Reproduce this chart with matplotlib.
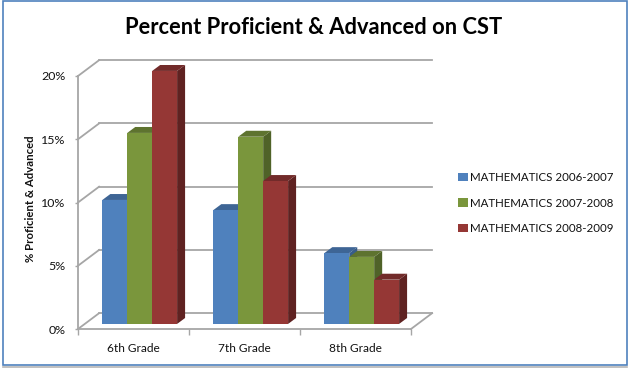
import matplotlib
matplotlib.use('Agg')
import matplotlib.pyplot as plt
from matplotlib.patches import Patch, Polygon, Rectangle
import numpy as np

grades = ['6th Grade', '7th Grade', '8th Grade']
series = ['MATHEMATICS 2006-2007', 'MATHEMATICS 2007-2008', 'MATHEMATICS 2008-2009']
math_0607 = [9.8, 9.0, 5.6]
math_0708 = [15.1, 14.8, 5.3]
math_0809 = [20.0, 11.3, 3.5]
y_ticks = [0, 5, 10, 15, 20]

front_cols = ['#4f81bd', '#7a963c', '#953735']
top_cols = ['#3e6595', '#5e732f', '#722b2a']
side_cols = ['#385d8a', '#4f6228', '#5f2221']
grid_col = '#a6a6a6'

plt.rcParams['font.family'] = ['Lato', 'DejaVu Sans']

W, H = 628, 369
fig = plt.figure(figsize=(W / 100, H / 100), dpi=100)
# axes is the front plane of the 3d box
ax = fig.add_axes([78 / W, 1 - 329 / H, 333 / W, 253 / H])
ax.set_xlim(-0.5, 2.5)
ax.set_ylim(0, 20)

# depth of the box and of the bars, in data units
wall_dx, wall_dy = 0.19, 1.25
bar_dx, bar_dy = 0.072, 0.47
bar_base = 0.4
bar_w = 0.2245
bar_shift = 0.056

# back wall + floor
for t in y_ticks:
    ax.plot([-0.5, -0.5 + wall_dx], [t, t + wall_dy], color=grid_col, lw=1.3, clip_on=False, zorder=1)
    ax.plot([-0.5 + wall_dx, 2.5 + wall_dx], [t + wall_dy, t + wall_dy], color=grid_col, lw=1.3, clip_on=False, zorder=1)
ax.plot([2.5, 2.5 + wall_dx], [0, wall_dy], color=grid_col, lw=1.3, clip_on=False, zorder=1)

all_vals = [math_0607, math_0708, math_0809]
for i, vals in enumerate(all_vals):
    x = np.arange(3) + bar_shift + (i - 1) * bar_w
    for xi, v in zip(x, vals):
        left, right = xi - bar_w / 2, xi + bar_w / 2
        low, top = bar_base, bar_base + v
        ax.add_patch(Polygon([(right, low), (right + bar_dx, low + bar_dy),
                              (right + bar_dx, top + bar_dy), (right, top)],
                             fc=side_cols[i], ec='none', clip_on=False, zorder=3))
        ax.add_patch(Polygon([(left, top), (left + bar_dx, top + bar_dy),
                              (right + bar_dx, top + bar_dy), (right, top)],
                             fc=top_cols[i], ec='none', clip_on=False, zorder=3))
    ax.bar(x, vals, bar_w, bottom=bar_base, color=front_cols[i], clip_on=False, zorder=3)

for s in ['top', 'right']:
    ax.spines[s].set_visible(False)
for s in ['left', 'bottom']:
    ax.spines[s].set_color(grid_col)
    ax.spines[s].set_linewidth(1.3)

ax.set_yticks(y_ticks)
ax.set_yticklabels(['%d%%' % t for t in y_ticks], fontsize=8.9, color='#111111')
ax.tick_params(axis='y', length=2, width=1, color=grid_col, pad=7)
ax.set_xticks([-0.5, 0.5, 1.5, 2.5])
ax.set_xticklabels([])
ax.tick_params(axis='x', length=4, width=1, color=grid_col)
ax.set_xticks([0, 1, 2], minor=True)
ax.set_xticklabels(grades, minor=True, fontsize=8.6, color='#111111')
ax.tick_params(axis='x', which='minor', length=0, pad=10)

fig.text(314 / W, 1 - 27 / H, 'Percent Proficient & Advanced on CST', fontsize=15.75,
         fontweight='bold', ha='center', va='center', color='black')
fig.text(31 / W, 1 - 199 / H, '% Proficient & Advanced', fontsize=8.2, fontweight='bold',
         rotation=90, ha='center', va='center', color='#111111')

handles = [Patch(fc=c, ec='none') for c in front_cols]
fig.legend(handles, series, loc='center left', bbox_to_anchor=(457.5 / W, 1 - 203 / H),
           frameon=False, fontsize=8.3, labelcolor='#111111', handlelength=0.9, handleheight=0.7,
           handletextpad=0.2, labelspacing=1.25, borderpad=0, borderaxespad=0)

# outer chart border
fig.add_artist(Rectangle((2.5 / W, 1 - 365 / H), 624 / W, 364 / H, transform=fig.transFigure,
                         fc='none', ec='#4f81bd', lw=1.2))
fig.add_artist(plt.Line2D([3 / W, 627 / W], [1 - 366.5 / H, 1 - 366.5 / H], color='#b5b5b5', lw=1.2))

fig.savefig('out.png', dpi=100)
